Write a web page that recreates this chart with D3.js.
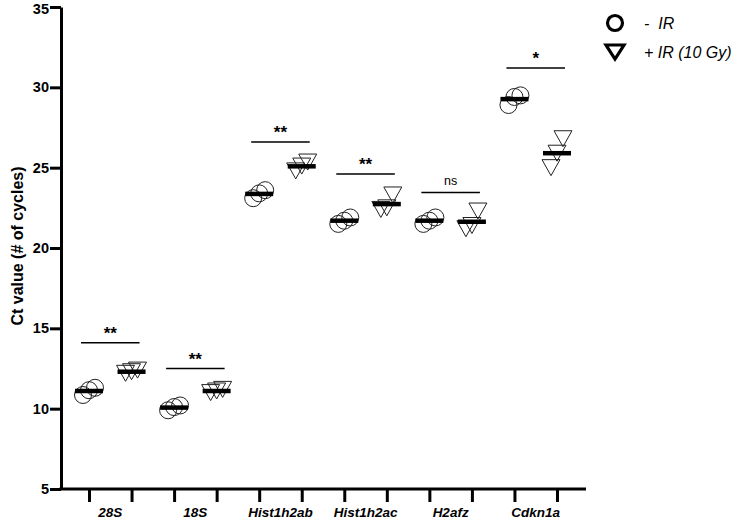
<!DOCTYPE html>
<html><head><meta charset="utf-8">
<script src="https://cdn.jsdelivr.net/npm/d3@7"></script>
<style>
html,body{margin:0;padding:0;background:#fff;}
svg{display:block;font-family:"Liberation Sans",Arial,sans-serif;}
</style></head>
<body>
<svg id="chart" width="735" height="526"></svg>
<script>
// ---- data ----
const genes = ["28S", "18S", "Hist1h2ab", "Hist1h2ac", "H2afz", "Cdkn1a"];
const ctNoIR = [
  [10.85, 11.15, 11.3],
  [9.9, 10.1, 10.2],
  [23.1, 23.4, 23.6],
  [21.5, 21.7, 21.9],
  [21.5, 21.7, 21.9],
  [28.9, 29.4, 29.5]
];
const ctIR = [
  [12.2, 12.3, 12.4],
  [11.0, 11.1, 11.2],
  [24.8, 25.1, 25.35],
  [22.4, 22.5, 23.3],
  [21.2, 21.4, 22.3],
  [25.0, 25.9, 26.8]
];
const sigLabels = ["**", "**", "**", "**", "ns", "*"];
const sigLevels = [14.1, 12.5, 26.6, 24.6, 23.45, 31.2];
const yTicks = [5, 10, 15, 20, 25, 30, 35];
const legendLabels = ["-  IR", "+ IR (10 Gy)"];

// ---- layout ----
const svg = d3.select("#chart");
const axisX = 61, axisY = 489, axisRight = 586, axisTop = 7;
const y = d3.scaleLinear().domain([5, 35]).range([axisY, axisTop]);
const slots = [];
genes.forEach(g => { slots.push(g + "|-"); slots.push(g + "|+"); });
const x = d3.scalePoint().domain(slots).range([89, 557]);
const gx = g => (x(g + "|-") + x(g + "|+")) / 2;

// y axis
const yAxis = svg.append("g").attr("transform", `translate(${axisX},0)`)
  .call(d3.axisLeft(y).tickValues(yTicks).tickSize(11).tickSizeOuter(0).tickPadding(1));
yAxis.select(".domain").attr("stroke", "#000").attr("stroke-width", 3);
yAxis.selectAll(".tick line").attr("stroke", "#000").attr("stroke-width", 3);
yAxis.selectAll(".tick text").attr("font-size", 14.5).attr("font-weight", "bold").attr("fill", "#000")
  .attr("font-family", "Liberation Sans, Arial, sans-serif")
  .attr("dy", d => d === 35 ? "0.45em" : "0.32em");

// x axis
const xAxis = svg.append("g").attr("transform", `translate(0,${axisY})`)
  .call(d3.axisBottom(x).tickSize(13).tickSizeOuter(0).tickFormat(""));
xAxis.select(".domain").remove();
xAxis.append("line").attr("x1", axisX - 1.5).attr("x2", axisRight).attr("y1", 0).attr("y2", 0)
  .attr("stroke", "#000").attr("stroke-width", 3);
xAxis.selectAll(".tick line").attr("stroke", "#000").attr("stroke-width", 3);

svg.append("g").selectAll("text").data(genes).join("text")
  .attr("x", d => gx(d)).attr("y", 517).attr("text-anchor", "middle")
  .attr("font-size", 13.5).attr("font-weight", "bold").attr("font-style", "italic")
  .text(d => d);

// y title
svg.append("text").attr("transform", "translate(23,246) rotate(-90)")
  .attr("text-anchor", "middle").attr("font-size", 16).attr("font-weight", "bold")
  .text("Ct value (# of cycles)");

// points
const offs = [-6, 0, 6];
const circR = 8.5;
const triW = 18, triH = 16;
const triPath = (cx, cy) => `M${cx - triW/2},${cy - triH/2}L${cx + triW/2},${cy - triH/2}L${cx},${cy + triH/2}Z`;

genes.forEach((g, gi) => {
  const cx = x(g + "|-"), tx = x(g + "|+");
  svg.append("g").selectAll("circle").data(ctNoIR[gi]).join("circle")
    .attr("cx", (d, i) => cx + offs[i]).attr("cy", d => y(d)).attr("r", circR)
    .attr("fill", "none").attr("stroke", "#222").attr("stroke-width", 1);
  svg.append("g").selectAll("path").data(ctIR[gi]).join("path")
    .attr("d", (d, i) => triPath(tx + offs[i], y(d)))
    .attr("fill", "none").attr("stroke", "#222").attr("stroke-width", 1);
  // means
  [[cx, d3.mean(ctNoIR[gi])], [tx, d3.mean(ctIR[gi])]].forEach(([px, m]) => {
    svg.append("line").attr("x1", px - 14).attr("x2", px + 14)
      .attr("y1", y(m)).attr("y2", y(m)).attr("stroke", "#000").attr("stroke-width", 4.5);
  });
  // significance
  const sy = y(sigLevels[gi]);
  svg.append("line").attr("x1", cx - 8).attr("x2", tx + 8).attr("y1", sy).attr("y2", sy)
    .attr("stroke", "#000").attr("stroke-width", 1.5);
  const isNs = sigLabels[gi] === "ns";
  svg.append("text").attr("x", (cx + tx) / 2).attr("y", isNs ? sy - 8 : sy - 4)
    .attr("text-anchor", "middle").attr("font-size", isNs ? 12.5 : 17)
    .attr("font-weight", isNs ? "normal" : "bold").text(sigLabels[gi]);
});

// legend
const lg = svg.append("g");
lg.append("circle").attr("cx", 615).attr("cy", 23).attr("r", 7.5)
  .attr("fill", "none").attr("stroke", "#000").attr("stroke-width", 3.2);
lg.append("path").attr("d", "M606,45L624,45L615,59Z")
  .attr("fill", "none").attr("stroke", "#000").attr("stroke-width", 3.2).attr("stroke-linejoin", "miter");
lg.selectAll("text").data(legendLabels).join("text")
  .attr("x", 644).attr("y", (d, i) => i === 0 ? 29 : 58)
  .attr("font-size", 16).attr("font-style", "italic").style("white-space", "pre")
  .text(d => d);
</script>
</body></html>
